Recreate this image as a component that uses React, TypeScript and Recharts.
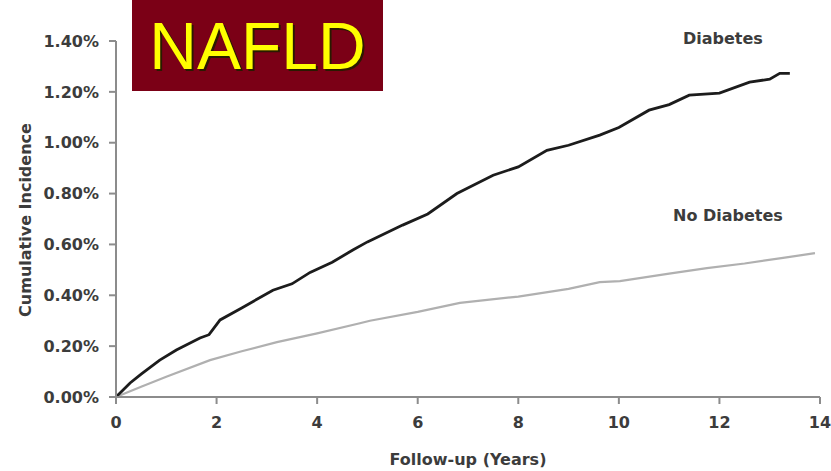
import { LineChart, Line, XAxis, YAxis, ReferenceDot } from 'recharts'

const diabetesYears = [0, 0.28, 0.5, 0.87, 1.2, 1.67, 1.85, 2.07, 2.5, 3.12, 3.5, 3.86, 4.3, 4.71, 5.0, 5.7, 6.2, 6.78, 7.5, 8.0, 8.57, 9.0, 9.62, 10.0, 10.6, 11.0, 11.4, 12.0, 12.6, 13.0, 13.2, 13.4]
const diabetesPct = [0, 0.055, 0.09, 0.145, 0.185, 0.232, 0.245, 0.303, 0.35, 0.42, 0.445, 0.49, 0.53, 0.578, 0.61, 0.676, 0.72, 0.8, 0.872, 0.905, 0.97, 0.99, 1.03, 1.06, 1.128, 1.15, 1.187, 1.195, 1.238, 1.25, 1.273, 1.273]

const noDiabetesYears = [0, 0.5, 1.0, 1.87, 2.5, 3.2, 4.0, 4.85, 5.05, 6.0, 6.84, 8.0, 9.0, 9.62, 10.02, 11.0, 11.75, 12.5, 13.3, 13.9]
const noDiabetesPct = [0, 0.04, 0.08, 0.145, 0.18, 0.216, 0.25, 0.29, 0.3, 0.335, 0.37, 0.395, 0.425, 0.452, 0.456, 0.485, 0.507, 0.525, 0.548, 0.566]

const xTicks = [0, 2, 4, 6, 8, 10, 12, 14]
const yTicks = [0, 0.2, 0.4, 0.6, 0.8, 1.0, 1.2, 1.4]

const diabetes = diabetesYears.map((x, i) => ({ x, y: diabetesPct[i] }))
const noDiabetes = noDiabetesYears.map((x, i) => ({ x, y: noDiabetesPct[i] }))

const font = 'DejaVu Sans, sans-serif'
const tickStyle = { fontSize: 16, fill: '#3c3c3c', fontWeight: 'bold', fontFamily: font }
const axisColor = '#8c8c8c'

function YLabel() {
  return (
    <text x={25} y={220} transform="rotate(-90 25 220)" textAnchor="middle" dominantBaseline="central"
      style={{ fontSize: 16, fontWeight: 'bold', fontFamily: font, fill: '#3c3c3c' }}>
      Cumulative Incidence
    </text>
  )
}

export default function App() {
  return (
    <div style={{ position: 'absolute', left: 0, top: 0, width: 831, height: 471, background: '#fff' }}>
      <LineChart width={831} height={471} margin={{ top: 41, right: 11, bottom: 0, left: 0 }}>
        <XAxis type="number" dataKey="x" domain={[0, 14]} ticks={xTicks} height={74}
          stroke={axisColor} strokeWidth={2} tickSize={7} tickMargin={13} tick={tickStyle}
          tickLine={{ stroke: axisColor, strokeWidth: 2 }}
          label={{ value: 'Follow-up (Years)', position: 'insideBottom', offset: 6, style: { ...tickStyle } }} />
        <YAxis type="number" domain={[0, 1.4]} ticks={yTicks} width={116}
          stroke={axisColor} strokeWidth={2} tickSize={7} tickMargin={10} tick={tickStyle}
          tickLine={{ stroke: axisColor, strokeWidth: 2 }}
          tickFormatter={(v: number) => v.toFixed(2) + '%'}
          label={{ content: () => <YLabel /> }} />
        <Line data={noDiabetes} dataKey="y" type="linear" stroke="#b0b0b0" strokeWidth={2.2} dot={false} isAnimationActive={false} />
        <Line data={diabetes} dataKey="y" type="linear" stroke="#1c1c1c" strokeWidth={2.8} dot={false} isAnimationActive={false} />
        <ReferenceDot x={12.07} y={1.41} r={0} ifOverflow="visible"
          label={{ value: 'Diabetes', position: 'center', style: { ...tickStyle } }} />
        <ReferenceDot x={12.17} y={0.714} r={0} ifOverflow="visible"
          label={{ value: 'No Diabetes', position: 'center', style: { ...tickStyle } }} />
      </LineChart>
      <div style={{
        position: 'absolute', left: 132, top: 0, width: 251, height: 91, background: '#7b0016',
        display: 'flex', alignItems: 'center', justifyContent: 'center',
        fontFamily: 'Liberation Sans, Arial, sans-serif', fontSize: 66, color: '#ffff00',
        textShadow: '2px 2px 0 #2a1a00', lineHeight: 1,
      }}>
        NAFLD
      </div>
    </div>
  )
}
